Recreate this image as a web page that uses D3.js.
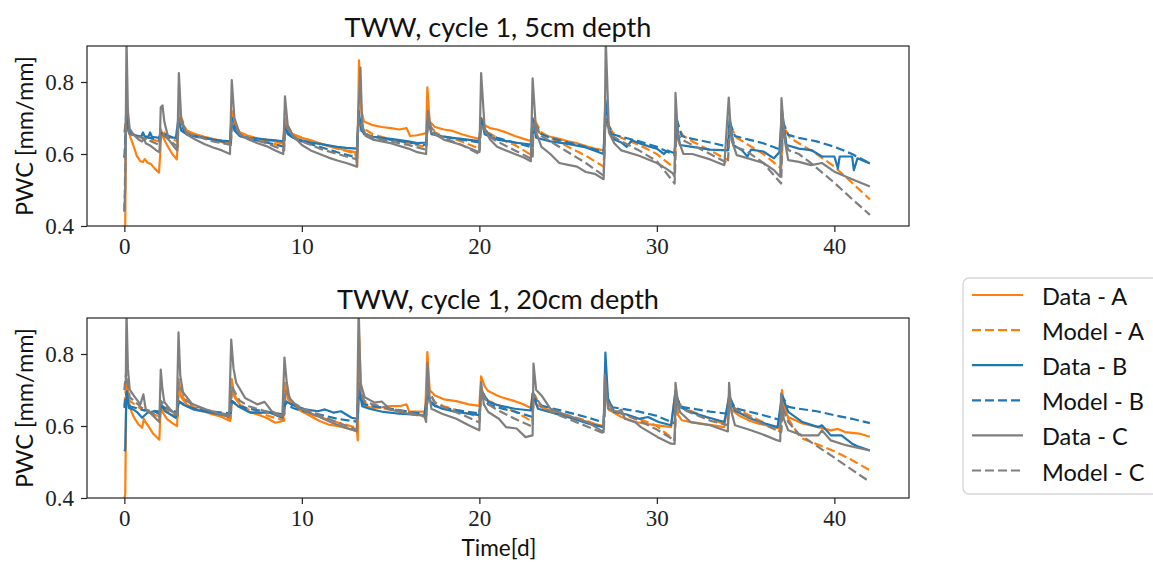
<!DOCTYPE html>
<html>
<head>
<meta charset="utf-8">
<script src="https://cdn.jsdelivr.net/npm/d3@7"></script>
<style>
  body { margin: 0; background: #fff; }
  svg { display: block; }
</style>
</head>
<body>
<div id="chart"></div>
<script>
// series values as [time (d), PWC]
const topDataA = [[0.05,0.40],[0.08,0.66],[0.12,0.71],[0.2,0.67],[0.35,0.645],[0.5,0.625],[0.7,0.595],[0.9,0.58],[1.05,0.578],[1.15,0.586],[1.3,0.576],[1.5,0.572],[1.7,0.56],[1.95,0.548],[2.02,0.6],[2.08,0.665],[2.2,0.645],[2.4,0.625],[2.7,0.6],[2.95,0.585],[3.0,0.62],[3.08,0.735],[3.2,0.685],[3.5,0.665],[4.0,0.655],[4.5,0.648],[5.0,0.642],[5.5,0.636],[5.95,0.63],[6.05,0.72],[6.2,0.68],[6.5,0.66],[7.0,0.65],[7.5,0.643],[8.0,0.64],[8.5,0.635],[8.95,0.628],[9.05,0.70],[9.2,0.67],[9.5,0.655],[10,0.645],[10.5,0.638],[11,0.63],[11.5,0.622],[12,0.616],[12.5,0.61],[13.0,0.605],[13.12,0.565],[13.22,0.86],[13.35,0.72],[13.5,0.69],[14,0.68],[14.5,0.675],[15,0.672],[15.5,0.668],[15.9,0.672],[16.1,0.65],[16.5,0.652],[17.0,0.658],[17.07,0.785],[17.2,0.69],[17.5,0.675],[18,0.668],[18.5,0.664],[19,0.655],[19.5,0.648],[20.0,0.642],[20.1,0.70],[20.3,0.68],[20.6,0.672],[21,0.668],[21.5,0.66],[22,0.65],[22.5,0.642],[22.9,0.636],[23.0,0.69],[23.2,0.665],[23.5,0.655],[24,0.648],[24.5,0.642],[25,0.635],[25.5,0.63],[26,0.622],[26.5,0.615],[27.0,0.61]]
const topModelA = [[0,0.66],[0.1,0.70],[0.3,0.66],[1,0.645],[2,0.635],[2.05,0.67],[2.5,0.645],[3,0.635],[3.05,0.72],[3.5,0.665],[4,0.655],[5,0.64],[6,0.625],[6.05,0.70],[6.5,0.66],[7,0.65],[8,0.635],[9,0.62],[9.05,0.69],[9.5,0.655],[10,0.645],[11,0.63],[12,0.615],[13.1,0.6],[13.2,0.72],[13.5,0.67],[14,0.655],[15,0.64],[16,0.63],[17,0.62],[17.1,0.7],[17.5,0.66],[18,0.65],[19,0.635],[20,0.615],[20.1,0.69],[20.5,0.66],[21,0.645],[22,0.625],[23,0.595],[23.05,0.70],[23.5,0.66],[24,0.645],[25,0.62],[26,0.595],[27,0.565],[27.1,0.70],[27.5,0.66],[28,0.645],[29,0.625],[30,0.6],[31,0.56],[31.1,0.68],[31.5,0.65],[32,0.635],[33,0.61],[34,0.583],[34.1,0.68],[34.5,0.645],[35,0.63],[36,0.6],[37,0.56],[37.1,0.68],[37.5,0.645],[38,0.63],[39,0.6],[40,0.565],[41,0.52],[42,0.474]]
const topDataB = [[0.0,0.59],[0.05,0.6],[0.1,0.72],[0.2,0.675],[0.4,0.655],[0.7,0.65],[0.95,0.648],[1.05,0.66],[1.15,0.648],[1.35,0.648],[1.45,0.66],[1.55,0.648],[1.95,0.645],[2.05,0.66],[2.3,0.648],[2.9,0.645],[3.05,0.70],[3.2,0.665],[3.5,0.655],[4,0.65],[4.5,0.645],[5,0.64],[5.5,0.637],[5.95,0.635],[6.05,0.70],[6.2,0.665],[6.5,0.65],[7,0.645],[7.5,0.643],[8,0.64],[8.5,0.638],[8.95,0.635],[9.05,0.68],[9.2,0.655],[9.5,0.645],[10,0.638],[10.5,0.632],[11,0.628],[11.5,0.624],[12,0.62],[12.5,0.617],[13.1,0.615],[13.2,0.72],[13.35,0.665],[13.6,0.655],[14,0.648],[15,0.642],[16,0.635],[16.5,0.63],[17.0,0.632],[17.1,0.7],[17.3,0.655],[18,0.648],[19,0.642],[20,0.636],[20.1,0.70],[20.3,0.655],[21,0.64],[22,0.632],[22.9,0.626],[23.0,0.70],[23.2,0.645],[24,0.635],[25,0.628],[26,0.618],[27.0,0.60],[27.1,0.75],[27.3,0.67],[27.6,0.64],[28,0.632],[28.3,0.62],[28.6,0.638],[29,0.63],[29.5,0.622],[30,0.615],[30.4,0.6],[30.6,0.61],[31,0.602],[31.1,0.69],[31.3,0.625],[32,0.62],[33,0.612],[34.0,0.61],[34.1,0.70],[34.3,0.625],[34.8,0.61],[35.1,0.593],[35.3,0.612],[36,0.607],[36.6,0.588],[36.9,0.605],[37.05,0.72],[37.3,0.625],[38,0.615],[38.7,0.611],[39.3,0.593],[40,0.593],[40.2,0.56],[40.3,0.593],[41,0.593],[41.1,0.555],[41.3,0.588],[42,0.574]]
const topModelB = [[0,0.59],[0.1,0.69],[0.3,0.655],[1,0.648],[2,0.64],[2.05,0.66],[3,0.64],[3.05,0.69],[3.5,0.655],[4,0.648],[5,0.64],[6,0.63],[6.05,0.69],[6.5,0.65],[7,0.642],[8,0.632],[9,0.62],[9.05,0.67],[9.5,0.645],[10,0.635],[11,0.62],[12,0.605],[13.1,0.59],[13.2,0.70],[13.5,0.655],[14,0.648],[15,0.64],[16,0.632],[17,0.625],[17.1,0.69],[17.5,0.655],[18,0.648],[19,0.64],[20,0.632],[20.1,0.69],[20.5,0.655],[21,0.645],[22,0.632],[23,0.618],[23.05,0.69],[23.5,0.655],[24,0.645],[25,0.632],[26,0.62],[27,0.605],[27.1,0.70],[27.5,0.655],[28,0.648],[29,0.635],[30,0.62],[31,0.597],[31.1,0.70],[31.4,0.65],[32,0.642],[33,0.632],[34,0.62],[34.1,0.69],[34.4,0.65],[35,0.642],[36,0.63],[37,0.611],[37.1,0.69],[37.4,0.653],[38,0.645],[39,0.635],[40,0.62],[41,0.6],[42,0.574]]
const topDataC = [[0.0,0.44],[0.05,0.5],[0.12,0.92],[0.2,0.72],[0.3,0.67],[0.5,0.655],[0.8,0.64],[1.0,0.635],[1.1,0.645],[1.2,0.63],[1.5,0.622],[1.8,0.61],[1.98,0.605],[2.05,0.73],[2.15,0.735],[2.25,0.69],[2.5,0.64],[2.8,0.62],[2.98,0.61],[3.07,0.825],[3.2,0.7],[3.5,0.655],[4,0.64],[4.5,0.628],[5,0.618],[5.5,0.61],[5.95,0.6],[6.05,0.805],[6.2,0.7],[6.5,0.655],[7,0.64],[7.5,0.63],[8,0.622],[8.5,0.61],[8.95,0.6],[9.05,0.76],[9.2,0.68],[9.5,0.65],[10,0.625],[10.5,0.61],[11,0.6],[11.5,0.59],[12,0.582],[12.5,0.575],[13.1,0.565],[13.2,0.73],[13.3,0.84],[13.4,0.68],[13.6,0.65],[14,0.64],[15,0.63],[16,0.615],[16.5,0.605],[17.0,0.6],[17.1,0.72],[17.3,0.66],[18,0.64],[19,0.625],[20,0.605],[20.1,0.825],[20.3,0.67],[20.6,0.64],[21,0.62],[21.5,0.61],[22,0.6],[22.5,0.59],[22.9,0.58],[23.0,0.81],[23.2,0.66],[23.5,0.62],[24,0.6],[24.5,0.575],[25,0.57],[25.5,0.565],[26,0.55],[26.5,0.545],[27.0,0.53],[27.05,0.6],[27.12,0.92],[27.3,0.66],[27.6,0.63],[28,0.61],[29,0.595],[30,0.575],[30.5,0.56],[30.9,0.546],[31.0,0.537],[31.05,0.77],[31.2,0.64],[31.5,0.6],[32,0.6],[33,0.585],[33.8,0.569],[34.05,0.757],[34.2,0.64],[34.5,0.597],[35,0.59],[36,0.575],[36.6,0.555],[36.95,0.537],[37.02,0.755],[37.2,0.64],[37.4,0.583],[38,0.578],[38.7,0.569],[39.3,0.575],[40,0.551],[41,0.53],[42,0.51]]
const topModelC = [[0,0.44],[0.1,0.68],[0.3,0.655],[1,0.645],[2,0.625],[2.05,0.66],[2.5,0.64],[3,0.62],[3.05,0.70],[3.5,0.66],[4,0.65],[5,0.635],[6,0.625],[6.05,0.69],[6.5,0.655],[7,0.645],[8,0.63],[9,0.61],[9.05,0.68],[9.5,0.65],[10,0.635],[11,0.615],[12,0.6],[13.1,0.585],[13.2,0.70],[13.5,0.66],[14,0.645],[15,0.635],[16,0.625],[17,0.612],[17.1,0.69],[17.5,0.655],[18,0.645],[19,0.625],[20,0.6],[20.1,0.68],[20.5,0.65],[21,0.635],[22,0.61],[23,0.585],[23.05,0.69],[23.5,0.65],[24,0.635],[25,0.605],[26,0.575],[27,0.54],[27.1,0.69],[27.5,0.65],[28,0.635],[29,0.61],[30,0.58],[31,0.518],[31.1,0.66],[31.4,0.64],[32,0.625],[33,0.6],[34,0.574],[34.1,0.67],[34.4,0.62],[35,0.61],[36,0.575],[37,0.518],[37.1,0.67],[37.4,0.611],[38,0.6],[38.7,0.574],[40,0.52],[41,0.475],[42,0.431]]

const botDataA = [[0.0,0.40],[0.05,0.41],[0.1,0.66],[0.15,0.73],[0.25,0.665],[0.4,0.64],[0.55,0.623],[0.8,0.604],[1.0,0.595],[1.1,0.62],[1.2,0.61],[1.35,0.6],[1.6,0.58],[1.8,0.57],[1.97,0.562],[2.05,0.655],[2.2,0.635],[2.4,0.62],[2.7,0.608],[2.97,0.6],[3.07,0.73],[3.2,0.68],[3.5,0.66],[4,0.645],[4.5,0.64],[5,0.632],[5.5,0.625],[5.95,0.614],[6.05,0.73],[6.2,0.68],[6.5,0.66],[7,0.64],[7.5,0.632],[8,0.623],[8.5,0.609],[8.95,0.614],[9.05,0.72],[9.2,0.675],[9.5,0.66],[10,0.641],[10.5,0.627],[11,0.614],[11.5,0.604],[12,0.6],[12.5,0.594],[13.1,0.586],[13.15,0.56],[13.22,0.86],[13.35,0.69],[13.6,0.655],[14,0.65],[14.5,0.652],[15,0.655],[15.5,0.655],[15.9,0.66],[16.05,0.64],[16.5,0.64],[16.95,0.64],[17.07,0.805],[17.2,0.7],[17.5,0.685],[18,0.674],[18.7,0.669],[19.4,0.66],[20.0,0.656],[20.1,0.738],[20.3,0.71],[20.5,0.697],[21,0.685],[21.3,0.679],[22,0.669],[22.5,0.66],[22.9,0.65],[23.0,0.69],[23.2,0.66],[23.6,0.65],[24.3,0.636],[25.3,0.623],[26.2,0.609],[27.0,0.6],[27.1,0.72],[27.3,0.645],[28,0.625],[28.8,0.611],[29.5,0.605],[30.8,0.597],[31.05,0.70],[31.2,0.63],[31.4,0.616],[32,0.61],[33,0.603],[33.8,0.597],[34.05,0.68],[34.2,0.645],[34.6,0.63],[35.2,0.615],[35.7,0.607],[36.3,0.6],[36.9,0.593],[37.05,0.70],[37.2,0.645],[37.4,0.625],[38.2,0.607],[39.1,0.597],[39.8,0.588],[40.2,0.592],[40.6,0.583],[41.4,0.579],[42,0.57]]
const botModelA = [[0,0.655],[0.1,0.72],[0.3,0.67],[1,0.645],[2,0.625],[2.05,0.66],[2.5,0.64],[3,0.625],[3.05,0.7],[3.5,0.665],[4,0.65],[5,0.635],[6,0.62],[6.05,0.7],[6.5,0.66],[7,0.645],[8,0.63],[9,0.615],[9.05,0.69],[9.5,0.655],[10,0.64],[11,0.625],[12,0.61],[13.1,0.595],[13.2,0.71],[13.5,0.665],[14,0.655],[15,0.645],[16,0.635],[17,0.625],[17.1,0.7],[17.5,0.665],[18,0.655],[19,0.64],[20,0.625],[20.1,0.7],[20.5,0.67],[21,0.66],[22,0.64],[23,0.612],[23.05,0.69],[23.5,0.655],[24,0.645],[25,0.63],[26,0.615],[27,0.597],[27.1,0.68],[27.5,0.645],[28,0.635],[29,0.62],[30,0.6],[31,0.56],[31.1,0.68],[31.4,0.653],[32,0.64],[33,0.62],[34,0.602],[34.1,0.68],[34.4,0.648],[35,0.635],[36,0.61],[37,0.583],[37.1,0.67],[37.4,0.62],[38.1,0.567],[39,0.55],[40,0.53],[41,0.505],[42,0.477]]
const botDataB = [[0.0,0.53],[0.05,0.535],[0.1,0.66],[0.15,0.697],[0.25,0.65],[0.5,0.646],[0.75,0.637],[1.0,0.623],[1.3,0.637],[1.7,0.641],[2.0,0.632],[2.07,0.66],[2.3,0.641],[2.9,0.623],[3.07,0.667],[3.3,0.66],[3.9,0.646],[4.9,0.637],[5.9,0.627],[6.05,0.67],[6.4,0.655],[7.1,0.637],[8.2,0.637],[8.9,0.623],[9.05,0.67],[9.4,0.66],[10.2,0.646],[10.9,0.641],[11.3,0.646],[11.8,0.637],[12.2,0.641],[12.8,0.623],[13.15,0.62],[13.22,0.704],[13.4,0.655],[13.8,0.648],[14.6,0.639],[15.5,0.634],[16.9,0.63],[17.07,0.69],[17.3,0.662],[17.9,0.648],[18.7,0.639],[19.4,0.634],[20.0,0.63],[20.1,0.70],[20.5,0.667],[21.1,0.657],[22,0.648],[22.9,0.643],[23.0,0.69],[23.3,0.648],[24.3,0.634],[25.3,0.62],[26.2,0.606],[27.0,0.597],[27.1,0.804],[27.25,0.676],[27.6,0.639],[28.3,0.632],[29.0,0.62],[29.5,0.625],[30.1,0.611],[30.8,0.602],[31.05,0.695],[31.3,0.653],[31.9,0.639],[32.8,0.625],[33.8,0.611],[34.05,0.676],[34.4,0.643],[35.3,0.62],[36.1,0.607],[36.8,0.597],[37.05,0.685],[37.4,0.639],[38.2,0.611],[39.1,0.597],[39.3,0.602],[39.8,0.574],[40.4,0.574],[41,0.551],[41.4,0.542],[42,0.532]]
const botModelB = [[0,0.65],[0.1,0.69],[0.3,0.655],[1,0.645],[2,0.64],[2.05,0.655],[3,0.638],[3.05,0.67],[3.5,0.655],[4,0.648],[5,0.64],[6,0.635],[6.05,0.67],[6.5,0.655],[7,0.648],[8,0.64],[9,0.632],[9.05,0.665],[9.5,0.65],[10,0.642],[11,0.632],[12,0.62],[13.1,0.612],[13.2,0.69],[13.5,0.66],[14,0.655],[15,0.648],[16,0.64],[17,0.632],[17.1,0.68],[17.5,0.655],[18,0.65],[19,0.642],[20,0.635],[20.1,0.685],[20.5,0.66],[21,0.652],[22,0.64],[23,0.625],[23.05,0.68],[23.5,0.657],[24,0.65],[25,0.638],[26,0.625],[27,0.61],[27.1,0.685],[27.5,0.652],[28,0.648],[29,0.64],[30,0.628],[31,0.607],[31.1,0.68],[31.4,0.653],[32,0.648],[33,0.64],[34,0.634],[34.1,0.68],[34.4,0.65],[35,0.642],[36,0.63],[37,0.616],[37.1,0.68],[37.4,0.653],[38,0.648],[39,0.641],[40,0.63],[41,0.62],[42,0.608]]
const botDataC = [[0.0,0.715],[0.08,0.72],[0.12,0.92],[0.2,0.76],[0.3,0.701],[0.55,0.683],[0.9,0.66],[1.07,0.688],[1.2,0.648],[1.5,0.634],[1.97,0.611],[2.05,0.757],[2.15,0.7],[2.25,0.667],[2.55,0.648],[2.95,0.63],[3.05,0.86],[3.15,0.74],[3.3,0.694],[3.8,0.662],[4.5,0.648],[5.3,0.634],[5.9,0.625],[6.02,0.84],[6.15,0.76],[6.3,0.72],[6.8,0.678],[7.5,0.66],[7.9,0.667],[8.3,0.641],[8.9,0.627],[9.02,0.79],[9.15,0.72],[9.3,0.678],[9.8,0.65],[10.9,0.627],[11.8,0.607],[12.9,0.588],[13.1,0.585],[13.2,0.93],[13.3,0.72],[13.54,0.68],[14.1,0.665],[14.5,0.668],[15.0,0.645],[16.0,0.634],[16.9,0.628],[17.0,0.611],[17.07,0.775],[17.2,0.68],[17.3,0.648],[17.9,0.634],[18.7,0.62],[19.4,0.602],[20.0,0.588],[20.1,0.722],[20.25,0.66],[20.5,0.639],[21.1,0.62],[21.5,0.597],[22.1,0.593],[22.6,0.569],[23.0,0.574],[23.05,0.773],[23.2,0.7],[23.5,0.685],[24,0.648],[24.9,0.63],[26.1,0.611],[27.0,0.583],[27.07,0.742],[27.25,0.648],[27.8,0.639],[28.0,0.645],[28.2,0.62],[28.8,0.61],[29.1,0.597],[30.05,0.569],[30.8,0.551],[31.0,0.55],[31.05,0.72],[31.2,0.66],[31.3,0.639],[31.9,0.611],[33.0,0.602],[33.8,0.588],[34.0,0.585],[34.07,0.72],[34.2,0.64],[34.4,0.602],[35.3,0.588],[36.1,0.574],[36.8,0.56],[36.95,0.558],[37.0,0.69],[37.15,0.62],[37.4,0.588],[38.2,0.574],[39.1,0.574],[39.3,0.588],[39.8,0.56],[40.7,0.546],[42,0.532]]
const botModelC = [[0,0.7],[0.1,0.75],[0.3,0.68],[1,0.65],[2,0.625],[2.05,0.67],[2.5,0.645],[3,0.63],[3.05,0.72],[3.5,0.67],[4,0.655],[5,0.64],[6,0.63],[6.05,0.71],[6.5,0.67],[7,0.655],[8,0.64],[9,0.625],[9.05,0.7],[9.5,0.665],[10,0.65],[11,0.63],[12,0.61],[13.1,0.59],[13.2,0.72],[13.5,0.67],[14,0.66],[15,0.648],[16,0.638],[17,0.628],[17.1,0.7],[17.5,0.665],[18,0.652],[19,0.632],[20,0.61],[20.1,0.7],[20.5,0.66],[21,0.645],[22,0.62],[23,0.598],[23.05,0.69],[23.5,0.655],[24,0.64],[25,0.62],[26,0.6],[27,0.58],[27.1,0.68],[27.5,0.645],[28,0.635],[29,0.615],[30,0.59],[31,0.56],[31.1,0.67],[31.4,0.648],[32,0.635],[33,0.615],[34,0.602],[34.1,0.67],[34.4,0.648],[35,0.63],[36,0.605],[37,0.583],[37.1,0.65],[37.4,0.611],[38,0.578],[38.6,0.558],[39,0.545],[40,0.512],[41,0.478],[42,0.445]]

const seriesLabels = ['Data - A', 'Model - A', 'Data - B', 'Model - B', 'Data - C', 'Model - C']
const titles       = ['TWW, cycle 1, 5cm depth', 'TWW, cycle 1, 20cm depth']
const xTicks       = [0, 10, 20, 30, 40]
const yTicks       = [0.4, 0.6, 0.8]

const colors = ['#ff7f0e', '#ff7f0e', '#1f77b4', '#1f77b4', '#7f7f7f', '#7f7f7f'],
      dashes = [null, '9,4', null, '9,4', null, '9,4']

const W = 1153, H = 562,
      left = 87, right = 909,
      panelTops = [46, 318], panelH = 180,
      sans = 'Lato, "Open Sans", sans-serif'

const svg = d3.select('#chart').append('svg').attr('width', W).attr('height', H)

const x = d3.scaleLinear().domain([-2.105, 44.205]).range([left, right])

// shrink/grow a text node until it has the wanted length
function fit(sel, target) {
  let n = sel.node(), s = parseFloat(sel.attr('font-size'))
  sel.attr('font-size', s * target / n.getComputedTextLength())
  return sel }

function panel(i, series) {
  let top = panelTops[i],
      y   = d3.scaleLinear().domain([0.4, 0.9]).range([top + panelH, top]),
      g   = svg.append('g'),
      line = d3.line().x(d => x(d[0])).y(d => y(d[1]))

  g.append('clipPath').attr('id', 'clip' + i)
    .append('rect').attr('x', left).attr('y', top).attr('width', right - left).attr('height', panelH)

  g.append('g').attr('clip-path', `url(#clip${i})`)
    .selectAll('path').data(series).enter().append('path')
    .attr('d', line)
    .attr('fill', 'none')
    .attr('stroke', (d, k) => colors[k])
    .attr('stroke-width', 2.2)
    .attr('stroke-dasharray', (d, k) => dashes[k])
    .attr('stroke-linejoin', 'round')

  let ax = g.append('g').attr('transform', `translate(0,${top + panelH})`)
    .call(d3.axisBottom(x).tickValues(xTicks).tickSize(6).tickPadding(6).tickFormat(d3.format('d')))
  let ay = g.append('g').attr('transform', `translate(${left},0)`)
    .call(d3.axisLeft(y).tickValues(yTicks).tickSize(6).tickPadding(7).tickFormat(d3.format('.1f')))

  ;[ax, ay].forEach(a => {
    a.select('.domain').remove()
    a.selectAll('.tick line').attr('stroke', '#222').attr('stroke-width', 1.2)
    a.selectAll('.tick text').attr('font-size', 23).attr('fill', '#222')
      .attr('font-family', '"Liberation Serif", serif') })

  g.append('rect').attr('x', left).attr('y', top).attr('width', right - left).attr('height', panelH)
    .attr('fill', 'none').attr('stroke', '#222').attr('stroke-width', 1.2)

  fit(g.append('text').attr('x', (left + right) / 2).attr('y', top - 9)
        .attr('text-anchor', 'middle').attr('font-family', sans).attr('font-size', 28)
        .attr('fill', '#111').text(titles[i]), i ? 322 : 307)

  fit(g.append('text').attr('transform', `translate(33,${top + panelH / 2}) rotate(-90)`)
        .attr('text-anchor', 'middle').attr('font-family', sans).attr('font-size', 22)
        .attr('fill', '#111').text('PWC [mm/mm]'), 160)
}

panel(0, [topDataA, topModelA, topDataB, topModelB, topDataC, topModelC])
panel(1, [botDataA, botModelA, botDataB, botModelB, botDataC, botModelC])

fit(svg.append('text').attr('x', (left + right) / 2 + 1).attr('y', 556)
      .attr('text-anchor', 'middle').attr('font-family', sans).attr('font-size', 22)
      .attr('fill', '#111').text('Time[d]'), 75)

// legend
let lg = svg.append('g')
lg.append('rect').attr('x', 963).attr('y', 278).attr('width', 205).attr('height', 216)
  .attr('rx', 6).attr('fill', '#fff').attr('stroke', '#d6d6d6').attr('stroke-width', 1.3)

let item = lg.selectAll('g.item').data(seriesLabels).enter().append('g')
  .attr('class', 'item')
  .attr('transform', (d, k) => `translate(0,${295 + k * 35.1})`)

item.append('line').attr('x1', 972).attr('x2', 1023)
  .attr('stroke', (d, k) => colors[k]).attr('stroke-width', 2.2)
  .attr('stroke-dasharray', (d, k) => dashes[k])

item.append('text').attr('x', 1042).attr('y', 10)
  .attr('font-family', sans).attr('font-size', 24).attr('fill', '#111')
  .text(d => d)

let probe = item.filter((d, k) => k === 1).select('text'),
    ratio = 102 / probe.node().getComputedTextLength()
item.selectAll('text').attr('font-size', 24 * ratio)
</script>
</body>
</html>
